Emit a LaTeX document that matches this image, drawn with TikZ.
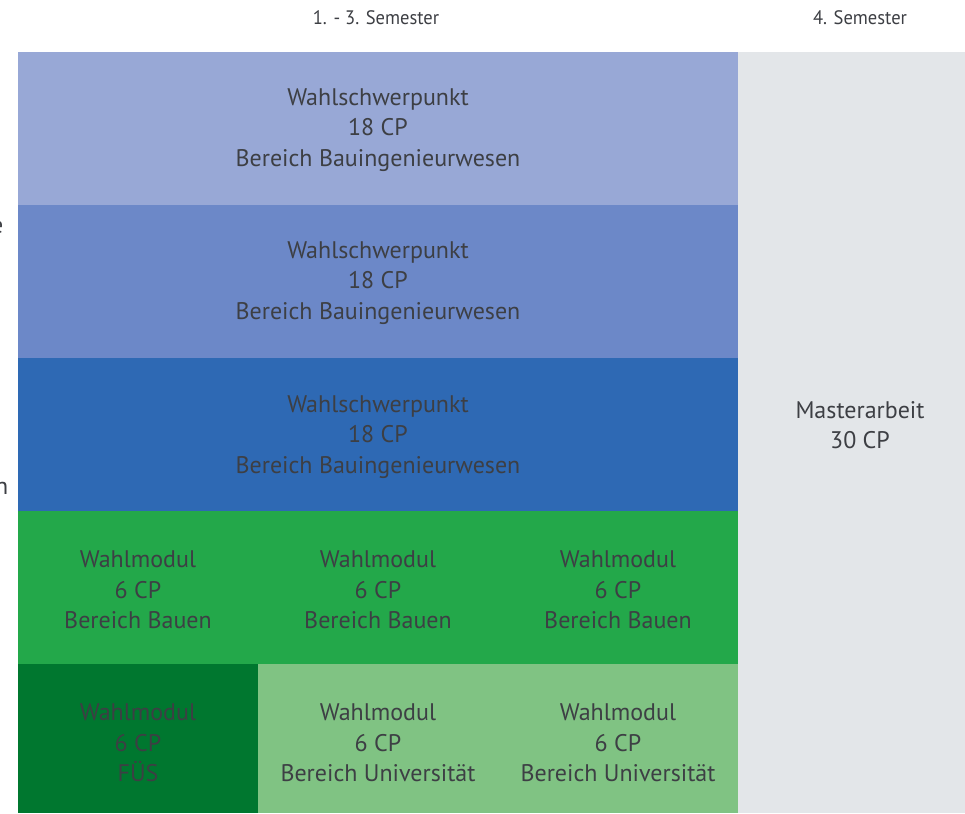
\documentclass[tikz,border=0pt]{standalone}
\usepackage{fontspec}
\setmainfont{PT Sans}
\definecolor{rowA}{HTML}{98A8D6}
\definecolor{rowB}{HTML}{6C88C8}
\definecolor{rowC}{HTML}{2E69B4}
\definecolor{rowD}{HTML}{23A84A}
\definecolor{rowE}{HTML}{00772F}
\definecolor{rowF}{HTML}{80C383}
\definecolor{master}{HTML}{E3E6E9}
\definecolor{txt}{HTML}{3D3F44}
\begin{document}
\begin{tikzpicture}[x=1pt,y=-1pt,
  cell/.style={inner sep=0pt,align=center,text=txt,font=\fontsize{24}{30.5}\selectfont},
  head/.style={inner sep=0pt,text=txt,font=\fontsize{19.5}{21}\selectfont,xscale=0.95}]
\useasboundingbox (0,0) rectangle (965,813);
\fill[white] (0,0) rectangle (965,813);
% blocks
\fill[rowA] (18,52) rectangle (738,205);
\fill[rowB] (18,205) rectangle (738,358);
\fill[rowC] (18,358) rectangle (738,511);
\fill[rowD] (18,511) rectangle (738,664);
\fill[rowE] (18,664) rectangle (258,813);
\fill[rowF] (258,664) rectangle (738,813);
\fill[master] (738,52) rectangle (965,813);
% headers
\node[head] (h1) at (376,18) {1. - 3. Semester};
\node[head] (h2) at (860,18) {4. Semester};
% cut-off letters at left edge
\begin{scope}
\clip (0,0) rectangle (9,813);
\node[cell,anchor=base west] (ce) at (-9,233) {e};
\node[cell,anchor=base west] (cn) at (-5,494) {n};
\end{scope}
% texts
\node[cell] (w1) at (378,130) {Wahlschwerpunkt\\18 CP\\Bereich Bauingenieurwesen};
\node[cell] (w2) at (378,283) {Wahlschwerpunkt\\18 CP\\Bereich Bauingenieurwesen};
\node[cell] (w3) at (378,437) {Wahlschwerpunkt\\18 CP\\Bereich Bauingenieurwesen};
\node[cell] (m1) at (138,590) {Wahlmodul\\6 CP\\Bereich Bauen};
\node[cell] (m2) at (378,590) {Wahlmodul\\6 CP\\Bereich Bauen};
\node[cell] (m3) at (618,590) {Wahlmodul\\6 CP\\Bereich Bauen};
\node[cell] (m4) at (138,743) {Wahlmodul\\6 CP\\FÜS};
\node[cell] (m5) at (378,743) {Wahlmodul\\6 CP\\Bereich Universität};
\node[cell] (m6) at (618,743) {Wahlmodul\\6 CP\\Bereich Universität};
\node[cell] (ma) at (860,425) {Masterarbeit\\30 CP};
\end{tikzpicture}
\end{document}
